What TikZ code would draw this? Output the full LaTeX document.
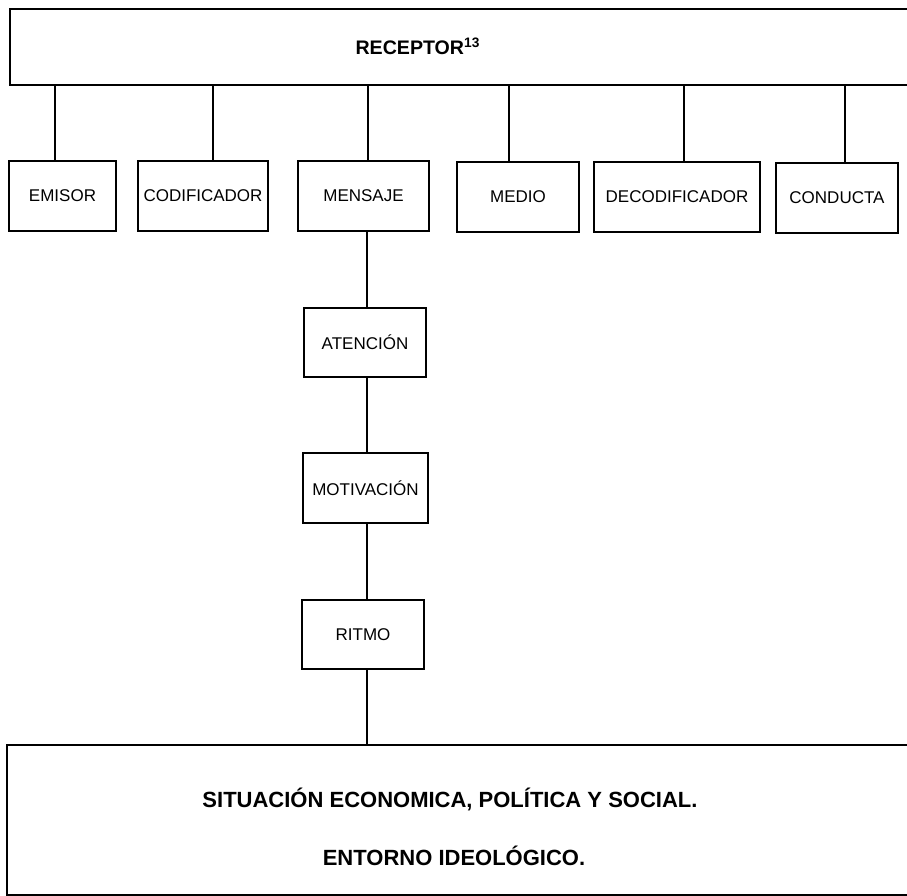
\documentclass[tikz,border=0pt]{standalone}
\usepackage{fontspec}
\setmainfont{Liberation Sans}
\tikzset{
  caja/.style={draw, line width=0.8pt, inner sep=0pt, font=\fontsize{8.5}{10}\selectfont},
  titulo/.style={inner sep=0pt, font=\bfseries\fontsize{11}{13}\selectfont},
  enlace/.style={line width=0.8pt}
}
\begin{document}
\begin{tikzpicture}[x=0.5pt,y=-0.5pt]
\useasboundingbox (0,0) rectangle (907,896);
% Draw the two wide boxes, top and bottom
\node[caja, minimum width=451pt, minimum height=38pt] (recep) at (461,47) {};
\node[titulo, font=\bfseries\fontsize{9.8}{12}\selectfont] (receptxt) at (418,46) {RECEPTOR$^{\mathbf{13}}$};
\node[caja, minimum width=452.5pt, minimum height=75pt] (entorno) at (459.5,820) {};
\node[titulo] (situtxt) at (450,799) {SITUACIÓN ECONOMICA, POLÍTICA Y SOCIAL.};
\node[titulo] (idectxt) at (454,856) {ENTORNO IDEOLÓGICO.};

% Draw the row of boxes under the receptor
\node[caja, minimum width=53.5pt, minimum height=35pt] (emisor) at (62.5,196) {EMISOR};
\node[caja, minimum width=65pt, minimum height=35pt] (codif) at (203,196) {CODIFICADOR};
\node[caja, minimum width=65.5pt, minimum height=35pt] (mensaje) at (363.5,196) {MENSAJE};
\node[caja, minimum width=61pt, minimum height=35pt] (medio) at (518,197) {MEDIO};
\node[caja, minimum width=83pt, minimum height=35pt] (decod) at (677,197) {DECODIFICADOR};
\node[caja, minimum width=61pt, minimum height=35pt] (conducta) at (837,198) {CONDUCTA};

% Draw the column under the message
\node[caja, minimum width=61pt, minimum height=34.5pt] (atencion) at (365,342.5) {ATENCIÓN};
\node[caja, minimum width=62.5pt, minimum height=35pt] (motiv) at (365.5,488) {MOTIVACIÓN};
\node[caja, minimum width=61pt, minimum height=34.5pt] (ritmo) at (363,634.5) {RITMO};

% Connectors from the receptor down to each box
\foreach \n/\dx in {emisor/-7.5, codif/10, mensaje/4.5, medio/-9, decod/7, conducta/8}
    \draw[enlace] ([xshift=\dx*0.5pt]\n.north) -- ([xshift=\dx*0.5pt]\n.north |- recep.south);
\draw[enlace] ([xshift=1.75pt]mensaje.south) -- ([xshift=1.75pt]mensaje.south |- atencion.north);
\draw[enlace] ([xshift=1pt]atencion.south) -- ([xshift=1pt]atencion.south |- motiv.north);
\draw[enlace] ([xshift=2pt]ritmo.north) -- ([xshift=2pt]ritmo.north |- motiv.south);
\draw[enlace] ([xshift=2pt]ritmo.south) -- ([xshift=2pt]ritmo.south |- entorno.north);
\end{tikzpicture}
\end{document}
